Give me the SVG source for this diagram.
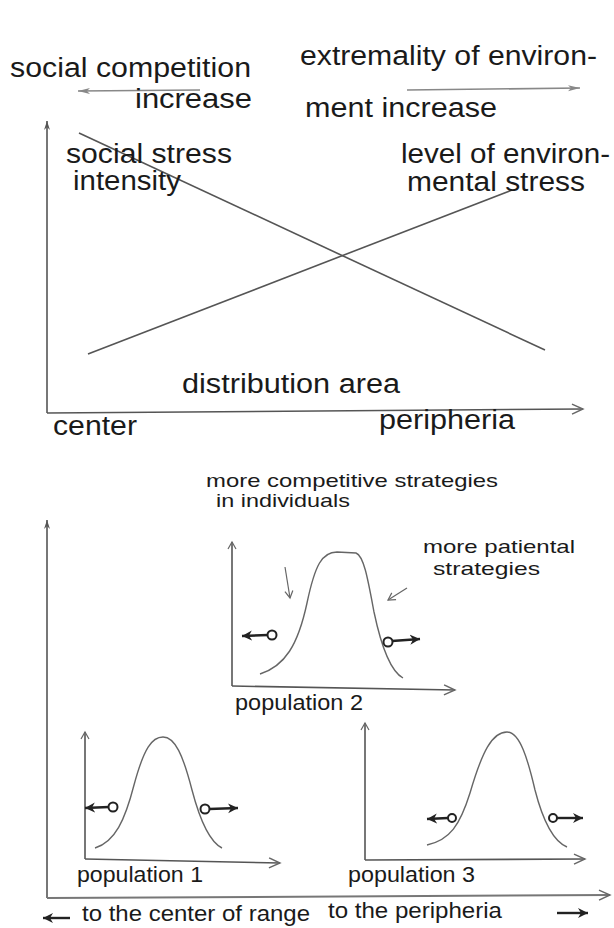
<svg xmlns="http://www.w3.org/2000/svg" width="614" height="928" viewBox="0 0 614 928">
<defs>
<style>
.t{font-family:"Liberation Sans",Arial,sans-serif;fill:#1a1a1a}
.big{font-size:27px}
.sm{font-size:19px}
.pop{font-size:22px}
.axis{stroke:#555;stroke-width:1.6;fill:none}
.axisL{stroke:#777;stroke-width:2;fill:none}
.trend{stroke:#555;stroke-width:1.6;fill:none}
.curve{stroke:#666;stroke-width:1.4;fill:none}
.grey{stroke:#888;stroke-width:1.6;fill:none}
.emit{stroke:#222;stroke-width:2.4;fill:none}
.dot{stroke:#222;stroke-width:2;fill:#fff}
.hint{stroke:#666;stroke-width:1.2;fill:none}
</style>
<marker id="fill" markerUnits="userSpaceOnUse" markerWidth="10" markerHeight="16" refX="9" refY="4" orient="auto">
<path d="M0,1 L9,4 L0,7 L3,4 Z" fill="#555"/>
</marker>
<marker id="chev" markerUnits="userSpaceOnUse" markerWidth="14" markerHeight="14" refX="12" refY="7" orient="auto">
<path d="M1,2 L12,7 L1,12" fill="none" stroke="#666" stroke-width="1.4"/>
</marker>
<marker id="gray" markerUnits="userSpaceOnUse" markerWidth="14" markerHeight="10" refX="12" refY="5" orient="auto">
<path d="M0,2 L12,5 L0,8 L3,5 Z" fill="#888"/>
</marker>
<marker id="bold" markerUnits="userSpaceOnUse" markerWidth="12" markerHeight="12" refX="10" refY="6" orient="auto">
<path d="M0,1 L10,6 L0,11 L3,6 Z" fill="#222"/>
</marker>
<marker id="thin" markerUnits="userSpaceOnUse" markerWidth="10" markerHeight="10" refX="8" refY="5" orient="auto">
<path d="M1,1 L8,5 L1,9" fill="none" stroke="#666" stroke-width="1.2"/>
</marker>
</defs>
<rect width="614" height="928" fill="#fff"/>

<g id="connectors">
<line class="grey" x1="200" y1="90" x2="78" y2="91" marker-end="url(#gray)"/>
<line class="grey" x1="407" y1="90" x2="580" y2="88" marker-end="url(#gray)"/>
<line class="axis" x1="47" y1="413" x2="47" y2="121" marker-end="url(#fill)"/>
<line class="axis" x1="47" y1="413" x2="583" y2="409" marker-end="url(#chev)"/>
<line class="axisL" x1="47" y1="898" x2="47" y2="520" marker-end="url(#fill)"/>
<line class="axisL" x1="47" y1="898" x2="610" y2="895" marker-end="url(#chev)"/>
<line class="emit" x1="70" y1="918" x2="43" y2="918" marker-end="url(#bold)"/>
<line class="emit" x1="557" y1="913" x2="588" y2="913" marker-end="url(#bold)"/>
</g>

<g id="top-chart">
<line class="trend" x1="79" y1="133" x2="545" y2="350"/>
<line class="trend" x1="88" y1="354" x2="512" y2="190"/>
</g>

<g id="top-labels">
<text class="t big" x="10" y="77" textLength="241" lengthAdjust="spacingAndGlyphs">social competition</text>
<text class="t big" x="135" y="108" textLength="117" lengthAdjust="spacingAndGlyphs">increase</text>
<text class="t big" x="300" y="65" textLength="297" lengthAdjust="spacingAndGlyphs">extremality of environ-</text>
<text class="t big" x="305" y="117" textLength="192" lengthAdjust="spacingAndGlyphs">ment increase</text>
<text class="t big" x="66" y="163" textLength="166" lengthAdjust="spacingAndGlyphs">social stress</text>
<text class="t big" x="73" y="190" textLength="108" lengthAdjust="spacingAndGlyphs">intensity</text>
<text class="t big" x="401" y="163" textLength="209" lengthAdjust="spacingAndGlyphs">level of environ-</text>
<text class="t big" x="407" y="191" textLength="178" lengthAdjust="spacingAndGlyphs">mental stress</text>
<text class="t big" x="182" y="393" textLength="218" lengthAdjust="spacingAndGlyphs">distribution area</text>
<text class="t big" x="53" y="435" textLength="84" lengthAdjust="spacingAndGlyphs">center</text>
<text class="t big" x="379" y="429" textLength="136" lengthAdjust="spacingAndGlyphs">peripheria</text>
</g>

<g id="population-2">
<line class="axis" x1="232" y1="686" x2="232" y2="542" marker-end="url(#thin)"/>
<line class="axis" x1="232" y1="686" x2="455" y2="690" marker-end="url(#chev)"/>
<path class="curve" d="M260,674 C285,666 298,645 307,603 C315,565 322,552 337,552 L356,553 C364,556 368,580 374,612 C382,650 392,672 403,678"/>
<line class="hint" x1="285" y1="567" x2="290" y2="598" marker-end="url(#thin)"/>
<line class="hint" x1="407" y1="588" x2="388" y2="600" marker-end="url(#thin)"/>
<line class="emit" x1="268" y1="635" x2="242" y2="636" marker-end="url(#bold)"/>
<circle class="dot" cx="272" cy="635" r="4.5"/>
<line class="emit" x1="392" y1="641" x2="420" y2="639" marker-end="url(#bold)"/>
<circle class="dot" cx="388" cy="642" r="4.5"/>
<text class="t pop" x="235" y="710" textLength="128" lengthAdjust="spacingAndGlyphs">population 2</text>
</g>

<g id="population-1">
<line class="axis" x1="85" y1="859" x2="85" y2="732" marker-end="url(#thin)"/>
<line class="axis" x1="85" y1="859" x2="280" y2="863" marker-end="url(#chev)"/>
<path class="curve" d="M95,848 C115,842 125,820 134,785 C144,748 152,737 163,737 C175,737 183,755 192,790 C202,828 212,843 222,848"/>
<line class="emit" x1="109" y1="807" x2="85" y2="808" marker-end="url(#bold)"/>
<circle class="dot" cx="113" cy="807" r="4.5"/>
<line class="emit" x1="209" y1="809" x2="238" y2="808" marker-end="url(#bold)"/>
<circle class="dot" cx="205" cy="809" r="4.5"/>
<text class="t pop" x="77" y="882" textLength="126" lengthAdjust="spacingAndGlyphs">population 1</text>
</g>

<g id="population-3">
<line class="axis" x1="365" y1="860" x2="365" y2="723" marker-end="url(#thin)"/>
<line class="axis" x1="365" y1="860" x2="585" y2="859" marker-end="url(#chev)"/>
<path class="curve" d="M427,845 C450,840 460,825 470,793 C482,752 492,732 507,732 C520,732 528,760 535,790 C544,825 555,842 567,847"/>
<line class="emit" x1="448" y1="818" x2="427" y2="819" marker-end="url(#bold)"/>
<circle class="dot" cx="452" cy="818" r="4"/>
<line class="emit" x1="557" y1="818" x2="583" y2="818" marker-end="url(#bold)"/>
<circle class="dot" cx="553" cy="818" r="4"/>
<text class="t pop" x="348" y="882" textLength="127" lengthAdjust="spacingAndGlyphs">population 3</text>
</g>

<g id="bottom-labels">
<text class="t sm" x="206" y="487" textLength="292" lengthAdjust="spacingAndGlyphs">more competitive strategies</text>
<text class="t sm" x="216" y="507" textLength="134" lengthAdjust="spacingAndGlyphs">in individuals</text>
<text class="t sm" x="423" y="553" textLength="152" lengthAdjust="spacingAndGlyphs">more patiental</text>
<text class="t sm" x="433" y="575" textLength="107" lengthAdjust="spacingAndGlyphs">strategies</text>
<text class="t pop" x="82" y="921" textLength="228" lengthAdjust="spacingAndGlyphs">to the center of range</text>
<text class="t pop" x="328" y="918" textLength="174" lengthAdjust="spacingAndGlyphs">to the peripheria</text>
</g>
</svg>
